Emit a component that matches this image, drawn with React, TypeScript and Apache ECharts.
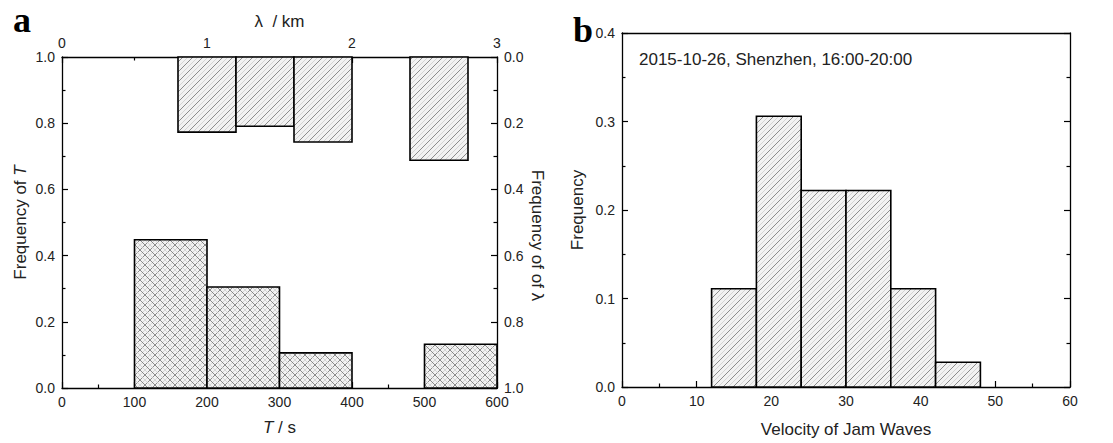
import React, { useEffect, useRef } from "react";
import * as echarts from "echarts";

// ---- data ----
const tBinStarts = [100, 200, 300, 500];
const tBinWidth = 100;
const tFreq = [0.448, 0.305, 0.106, 0.132];

const lambdaBinStarts = [0.8, 1.2, 1.6, 2.4];
const lambdaBinWidth = 0.4;
const lambdaFreq = [0.227, 0.209, 0.257, 0.312];

const velocityBinStarts = [12, 18, 24, 30, 36, 42];
const velocityBinWidth = 6;
const velocityFreq = [0.111, 0.306, 0.222, 0.222, 0.111, 0.028];

const freqTicksA = [0, 0.2, 0.4, 0.6, 0.8, 1.0];
const annotation = "2015-10-26, Shenzhen, 16:00-20:00";

const FONT = "'Liberation Sans', Arial, sans-serif";
const TXT = "#222";

function hatch(x0: number, y0: number, x1: number, y1: number, dir: string, step: number, offset: number, stroke: string, lw: number) {
  const out: any[] = [];
  if (dir === "/") {
    const cMin = x0 + y0, cMax = x1 + y1;
    let c = Math.ceil((cMin - offset) / step) * step + offset;
    for (; c < cMax; c += step) {
      const xa = Math.max(x0, c - y1), xb = Math.min(x1, c - y0);
      if (xb > xa) out.push({ type: "line", silent: true, shape: { x1: xa, y1: c - xa, x2: xb, y2: c - xb }, style: { stroke, lineWidth: lw } });
    }
  } else {
    const dMin = y0 - x1, dMax = y1 - x0;
    let d = Math.ceil((dMin - offset) / step) * step + offset;
    for (; d < dMax; d += step) {
      const xa = Math.max(x0, y0 - d), xb = Math.min(x1, y1 - d);
      if (xb > xa) out.push({ type: "line", silent: true, shape: { x1: xa, y1: xa + d, x2: xb, y2: xb + d }, style: { stroke, lineWidth: lw } });
    }
  }
  return out;
}

function makeRender(cross: boolean) {
  return (params: any, api: any) => {
    const a = api.value(0), b = api.value(1), v = api.value(2);
    const p0 = api.coord([a, 0]);
    const p1 = api.coord([b, v]);
    const x0 = Math.min(p0[0], p1[0]), x1 = Math.max(p0[0], p1[0]);
    const y0 = Math.min(p0[1], p1[1]), y1 = Math.max(p0[1], p1[1]);
    const children: any[] = [
      { type: "rect", silent: true, shape: { x: x0, y: y0, width: x1 - x0, height: y1 - y0 }, style: { fill: "#f2f2f2", stroke: null } },
    ];
    children.push(...hatch(x0, y0, x1, y1, "/", 10, 5, "#c8c8c8", 0.7));
    children.push(...hatch(x0, y0, x1, y1, "/", 10, 0, "#606060", 0.7));
    if (cross) {
      children.push(...hatch(x0, y0, x1, y1, "\\", 10, 5, "#c8c8c8", 0.7));
      children.push(...hatch(x0, y0, x1, y1, "\\", 10, 0, "#606060", 0.7));
    }
    children.push({ type: "rect", silent: true, shape: { x: x0, y: y0, width: x1 - x0, height: y1 - y0 }, style: { fill: "none", stroke: "#000", lineWidth: 1.6 } });
    return { type: "group", children };
  };
}

const axisLine = { onZero: false, lineStyle: { color: "#000", width: 1.3 } };
const tick = { inside: true, length: 6, lineStyle: { color: "#000", width: 1.2 } };
const minor = (n: number) => ({ show: true, splitNumber: n, length: 3.5, lineStyle: { color: "#000", width: 1.2 } });
const label = (fmt?: (v: number) => string) => ({ color: TXT, fontSize: 14, fontFamily: FONT, margin: 7, formatter: fmt });
const f1 = (v: number) => v.toFixed(1);

export default function App() {
  const ref = useRef<HTMLDivElement>(null);
  useEffect(() => {
    if (!ref.current) return;
    const chart = echarts.init(ref.current, null, { renderer: "svg" });
    const tData = tBinStarts.map((s, i) => [s, s + tBinWidth, tFreq[i]]);
    const lData = lambdaBinStarts.map((s, i) => [s, s + lambdaBinWidth, lambdaFreq[i]]);
    const vData = velocityBinStarts.map((s, i) => [s, s + velocityBinWidth, velocityFreq[i]]);
    const nameStyle = { color: TXT, fontSize: 17, fontFamily: FONT, rich: { i: { fontStyle: "italic", fontSize: 17, color: TXT, fontFamily: FONT } } };
    const option: any = {
      animation: false,
      textStyle: { fontFamily: FONT },
      grid: [
        { left: 62, top: 57, width: 435, height: 331, outerBoundsMode: "none" },
        { left: 622, top: 33, width: 448, height: 354, outerBoundsMode: "none" },
      ],
      xAxis: [
        {
          type: "value", gridIndex: 0, position: "bottom", min: 0, max: 600, interval: 100,
          axisLine, axisTick: tick, minorTick: minor(2), splitLine: { show: false }, minorSplitLine: { show: false },
          axisLabel: label(), name: "{i|T} / s", nameLocation: "middle", nameGap: 31, nameTextStyle: nameStyle,
        },
        {
          type: "value", gridIndex: 0, position: "top", min: 0, max: 3, interval: 1,
          axisLine, axisTick: tick, minorTick: minor(2), splitLine: { show: false },
          axisLabel: label(), name: "λ  / km", nameLocation: "middle", nameGap: 27, nameTextStyle: nameStyle,
        },
        {
          type: "value", gridIndex: 1, position: "bottom", min: 0, max: 60, interval: 10,
          axisLine, axisTick: tick, minorTick: minor(2), splitLine: { show: false },
          axisLabel: label(), name: "Velocity of Jam Waves", nameLocation: "middle", nameGap: 34,
          nameTextStyle: { color: TXT, fontSize: 17, fontFamily: FONT },
        },
        {
          type: "value", gridIndex: 1, position: "top", min: 0, max: 60, interval: 10,
          axisLine, axisTick: { show: false }, splitLine: { show: false }, axisLabel: { show: false },
        },
      ],
      yAxis: [
        {
          type: "value", gridIndex: 0, position: "left", min: freqTicksA[0], max: freqTicksA[freqTicksA.length - 1], interval: 0.2,
          axisLine, axisTick: tick, minorTick: minor(2), splitLine: { show: false },
          axisLabel: label(f1), name: "Frequency of {i|T}", nameLocation: "middle", nameGap: 33, nameTextStyle: nameStyle,
        },
        {
          type: "value", gridIndex: 0, position: "right", inverse: true, min: 0, max: 1, interval: 0.2,
          axisLine, axisTick: tick, minorTick: minor(2), splitLine: { show: false },
          axisLabel: label(f1), name: "Frequency of of λ", nameLocation: "middle", nameGap: 32, nameRotate: -90,
          nameTextStyle: { ...nameStyle, padding: [0, 0, 0, 26] },
        },
        {
          type: "value", gridIndex: 1, position: "left", min: 0, max: 0.4, interval: 0.1,
          axisLine, axisTick: tick, minorTick: minor(2), splitLine: { show: false },
          axisLabel: label(f1), name: "Frequency", nameLocation: "middle", nameGap: 36,
          nameTextStyle: { color: TXT, fontSize: 17, fontFamily: FONT },
        },
        {
          type: "value", gridIndex: 1, position: "right", min: 0, max: 0.4, interval: 0.1,
          axisLine, axisTick: tick, minorTick: minor(2), splitLine: { show: false }, axisLabel: { show: false },
        },
      ],
      series: [
        { type: "custom", xAxisIndex: 0, yAxisIndex: 0, data: tData, encode: { x: [0, 1], y: 2 }, renderItem: makeRender(true), clip: false },
        { type: "custom", xAxisIndex: 1, yAxisIndex: 1, data: lData, encode: { x: [0, 1], y: 2 }, renderItem: makeRender(false), clip: false },
        { type: "custom", xAxisIndex: 2, yAxisIndex: 2, data: vData, encode: { x: [0, 1], y: 2 }, renderItem: makeRender(false), clip: false },
      ],
      graphic: [
        { type: "text", left: 13, top: 2, style: { text: "a", font: "bold 36px 'Liberation Serif', 'Times New Roman', serif", fill: "#000" } },
        { type: "text", left: 573, top: 12, style: { text: "b", font: "bold 36px 'Liberation Serif', 'Times New Roman', serif", fill: "#000" } },
        { type: "text", left: 639, top: 51, style: { text: annotation, font: `17px ${FONT}`, fill: TXT } },
      ],
    };
    chart.setOption(option);
    return () => chart.dispose();
  }, []);
  return <div ref={ref} style={{ position: "fixed", left: 0, top: 0, width: 1113, height: 443, background: "#fff" }} />;
}
